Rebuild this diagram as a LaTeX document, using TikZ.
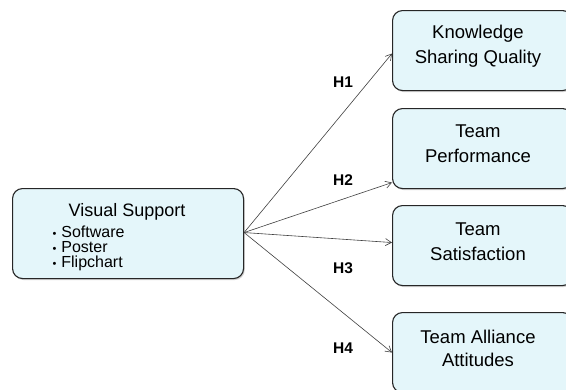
\documentclass[tikz,border=0pt]{standalone}
\usepackage{fontspec}
\setmainfont{Liberation Sans}
\usetikzlibrary{arrows.meta,shadows,calc}
\definecolor{boxfill}{RGB}{228,246,250}
\begin{document}
\begin{tikzpicture}[x=1pt,y=-1pt,
  boxst/.style={draw=black!85, line width=1.1pt, rounded corners=10pt, fill=boxfill,
    drop shadow={opacity=0.35, shadow xshift=1.2pt, shadow yshift=-1.5pt, fill=black!50},
    inner sep=0pt, anchor=north west},
  btext/.style={align=center, font=\fontsize{18.5}{25}\selectfont},
  conn/.style={draw=black!75, line width=0.6pt, -{Straight Barb[length=6pt,width=7pt]}},
  hlab/.style={font=\bfseries\fontsize{15.5}{17}\selectfont}]
\useasboundingbox (0,0) rectangle (566,389);
\fill[white] (0,0) rectangle (566,389);
% left box
\node[boxst, minimum width=231pt, minimum height=90pt] (vs) at (12,188) {};
\node[font=\fontsize{18}{20}\selectfont] (vst) at (127,212) {Visual Support};
\newcommand{\bul}{{\fontsize{11}{11}\selectfont\textbullet}\hspace{5pt}}
\node[anchor=west, align=left, font=\fontsize{16}{15}\selectfont] (vsl) at (49,248)
  {\bul Software\\ \bul Poster\\ \bul Flipchart};
% right boxes
\node[boxst, minimum width=180pt, minimum height=80pt] (ksq) at (392,10) {};
\node[btext] (ksqt) at (478,46) {Knowledge\\Sharing Quality};
\node[boxst, minimum width=180pt, minimum height=80pt] (tp) at (392,108) {};
\node[btext] (tpt) at (478,144) {Team\\Performance};
\node[boxst, minimum width=180pt, minimum height=80pt] (ts) at (392,205) {};
\node[btext] (tst) at (478,242) {Team\\Satisfaction};
\node[boxst, minimum width=180pt, minimum height=80pt] (ta) at (392,312) {};
\node[btext, font=\fontsize{18.5}{23}\selectfont] (tat) at (478,348) {Team Alliance\\Attitudes};
% connectors
\coordinate (src) at ($(vs.east)+(0,-1)$);
\draw[conn] (src) -- ($(ksq.west)+(0,3)$);
\draw[conn] (src) -- ($(tp.west)+(0,34)$);
\draw[conn] (src) -- ($(ts.west)+(0,-3)$);
\draw[conn] (src) -- ($(ta.west)+(0,0)$);
% labels
\node[hlab] (h1) at (343,82) {H1};
\node[hlab] (h2) at (343,180) {H2};
\node[hlab] (h3) at (343,268) {H3};
\node[hlab] (h4) at (343,348) {H4};
\end{tikzpicture}
\end{document}
